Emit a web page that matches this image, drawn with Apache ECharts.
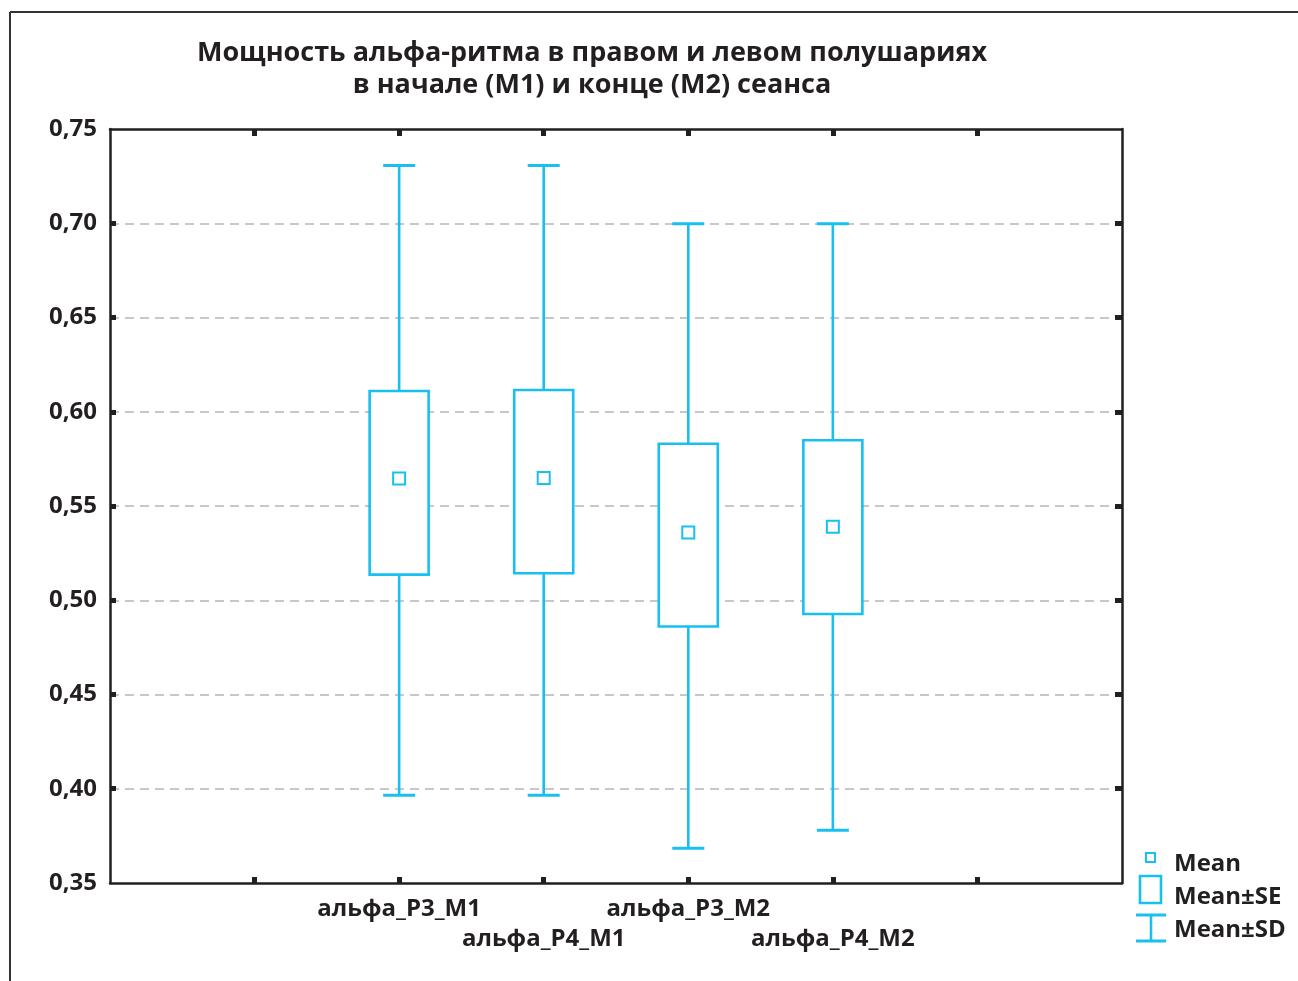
<!DOCTYPE html>
<html>
<head>
<meta charset="utf-8">
<script src="https://cdn.jsdelivr.net/npm/echarts@6/dist/echarts.min.js"></script>
<style>
  html, body { margin: 0; padding: 0; background: #fff; }
  #chart { width: 1298px; height: 981px; }
</style>
</head>
<body>
<div id="chart"></div>
<script>
// Slots along the x axis; only the middle four carry variables
const categories = ['', '', 'альфа_P3_M1', 'альфа_P4_M1', 'альфа_P3_M2', 'альфа_P4_M2', '', ''];
const variableSlots = [2, 3, 4, 5];
// Per-variable statistics (alpha power)
const meanValues   = [0.5646, 0.5648, 0.5359, 0.5390];
const seLowValues  = [0.5136, 0.5143, 0.4861, 0.4927];
const seHighValues = [0.6110, 0.6115, 0.5830, 0.5849];
const sdLowValues  = [0.3966, 0.3966, 0.3684, 0.3780];
const sdHighValues = [0.7307, 0.7307, 0.6998, 0.6998];
const yTickValues = [0.35, 0.40, 0.45, 0.50, 0.55, 0.60, 0.65, 0.70, 0.75];
const titleLines = [
  'Мощность альфа-ритма в правом и левом полушариях',
  'в начале (М1) и конце (М2) сеанса'
];
const legendLabels = ['Mean', 'Mean±SE', 'Mean±SD'];

const CYAN = '#18BFEF';
const DARK = '#231f20';
const FONT = '"Open Sans", "DejaVu Sans", sans-serif';
const LABEL_SIZE = 24;

const boxData = variableSlots.map((slot, i) => [
  slot, sdLowValues[i], seLowValues[i], meanValues[i], seHighValues[i], sdHighValues[i]
]);

function renderBox(params, api) {
  const slot = api.value(0);
  const pSdLo = api.coord([slot, api.value(1)]);
  const pSeLo = api.coord([slot, api.value(2)]);
  const pMean = api.coord([slot, api.value(3)]);
  const pSeHi = api.coord([slot, api.value(4)]);
  const pSdHi = api.coord([slot, api.value(5)]);
  const x = pMean[0];
  const boxHalf = 29.5, capHalf = 16, meanHalf = 6;
  const lineStyle = { stroke: CYAN, lineWidth: 2.6, fill: null };
  return {
    type: 'group',
    children: [
      { type: 'line', shape: { x1: x, y1: pSdHi[1], x2: x, y2: pSeHi[1] }, style: lineStyle },
      { type: 'line', shape: { x1: x, y1: pSeLo[1], x2: x, y2: pSdLo[1] }, style: lineStyle },
      { type: 'line', shape: { x1: x - capHalf, y1: pSdHi[1], x2: x + capHalf, y2: pSdHi[1] }, style: { stroke: CYAN, lineWidth: 3 } },
      { type: 'line', shape: { x1: x - capHalf, y1: pSdLo[1], x2: x + capHalf, y2: pSdLo[1] }, style: { stroke: CYAN, lineWidth: 3 } },
      { type: 'rect', shape: { x: x - boxHalf, y: pSeHi[1], width: boxHalf * 2, height: pSeLo[1] - pSeHi[1] },
        style: { stroke: CYAN, lineWidth: 2.6, fill: '#fff' } },
      { type: 'rect', shape: { x: x - meanHalf, y: pMean[1] - meanHalf, width: meanHalf * 2, height: meanHalf * 2 },
        style: { stroke: CYAN, lineWidth: 2, fill: '#fff' } }
    ]
  };
}

const chart = echarts.init(document.getElementById('chart'), null, { renderer: 'canvas' });

const innerSlot = (i) => i > 0 && i < categories.length - 1;
const innerYTicks = yTickValues.slice(1, -1);
const xTick = { show: true, inside: true, length: 6, interval: innerSlot, lineStyle: { color: DARK, width: 5 } };
const yTick = { show: true, inside: true, length: 6, customValues: innerYTicks, lineStyle: { color: DARK, width: 5 } };
const axisLine = { show: true, lineStyle: { color: DARK, width: 2.5 } };

chart.setOption({
  animation: false,
  backgroundColor: '#fff',
  grid: { left: 110, top: 129, right: 176, bottom: 98, containLabel: false },
  title: {
    text: titleLines.join('\n'),
    left: 587, top: 32, textAlign: 'center',
    textStyle: { fontFamily: FONT, fontWeight: 'bold', fontSize: 27, color: DARK, lineHeight: 32 }
  },
  xAxis: [
    {
      type: 'category', data: categories, boundaryGap: false, position: 'bottom',
      axisLine: axisLine, axisTick: xTick, splitLine: { show: false },
      axisLabel: {
        interval: 0, margin: 11, color: DARK, fontFamily: FONT, fontWeight: 'bold', fontSize: LABEL_SIZE, lineHeight: 30,
        formatter: (v, i) => (v && i % 2 === 1) ? '\n' + v : v
      }
    },
    {
      type: 'category', data: categories, boundaryGap: false, position: 'top',
      axisLine: axisLine, axisTick: Object.assign({}, xTick, { length: 7 }), axisLabel: { show: false }, splitLine: { show: false }
    }
  ],
  yAxis: [
    {
      type: 'value', min: yTickValues[0], max: yTickValues[yTickValues.length - 1], interval: 0.05, position: 'left',
      axisLine: axisLine, axisTick: yTick,
      axisLabel: {
        margin: 13, color: DARK, fontFamily: FONT, fontWeight: 'bold', fontSize: LABEL_SIZE,
        formatter: v => v.toFixed(2).replace('.', ',')
      },
      splitLine: { show: true, lineStyle: { color: '#c8c8c8', width: 2, type: [9, 6] } }
    },
    {
      type: 'value', min: yTickValues[0], max: yTickValues[yTickValues.length - 1], interval: 0.05, position: 'right',
      axisLine: axisLine, axisTick: Object.assign({}, yTick, { length: 7 }),
      axisLabel: { show: false }, splitLine: { show: false }
    }
  ],
  series: [{
    type: 'custom',
    renderItem: renderBox,
    data: boxData,
    encode: { x: 0, y: [1, 2, 3, 4, 5] },
    clip: false,
    z: 5
  }],
  graphic: [
    // outer frame
    { type: 'line', shape: { x1: 10, y1: 12, x2: 1298, y2: 12 }, style: { stroke: '#333', lineWidth: 2 } },
    { type: 'line', shape: { x1: 10, y1: 12, x2: 10, y2: 981 }, style: { stroke: '#333', lineWidth: 2 } },
    // legend symbols
    { type: 'rect', shape: { x: 1146, y: 853, width: 9, height: 9 }, style: { stroke: CYAN, lineWidth: 2, fill: '#fff' } },
    { type: 'rect', shape: { x: 1140, y: 876, width: 21, height: 27 }, style: { stroke: CYAN, lineWidth: 2.6, fill: '#fff' } },
    { type: 'line', shape: { x1: 1136, y1: 915, x2: 1166, y2: 915 }, style: { stroke: CYAN, lineWidth: 3 } },
    { type: 'line', shape: { x1: 1151, y1: 915, x2: 1151, y2: 941 }, style: { stroke: CYAN, lineWidth: 2.6 } },
    { type: 'line', shape: { x1: 1136, y1: 941, x2: 1166, y2: 941 }, style: { stroke: CYAN, lineWidth: 3 } },
    // legend labels
    { type: 'text', x: 1174, y: 864, style: { text: legendLabels[0], fill: DARK, font: 'bold ' + LABEL_SIZE + 'px ' + FONT, textVerticalAlign: 'middle' } },
    { type: 'text', x: 1174, y: 897, style: { text: legendLabels[1], fill: DARK, font: 'bold ' + LABEL_SIZE + 'px ' + FONT, textVerticalAlign: 'middle' } },
    { type: 'text', x: 1174, y: 930, style: { text: legendLabels[2], fill: DARK, font: 'bold ' + LABEL_SIZE + 'px ' + FONT, textVerticalAlign: 'middle' } }
  ]
});
</script>
</body>
</html>
